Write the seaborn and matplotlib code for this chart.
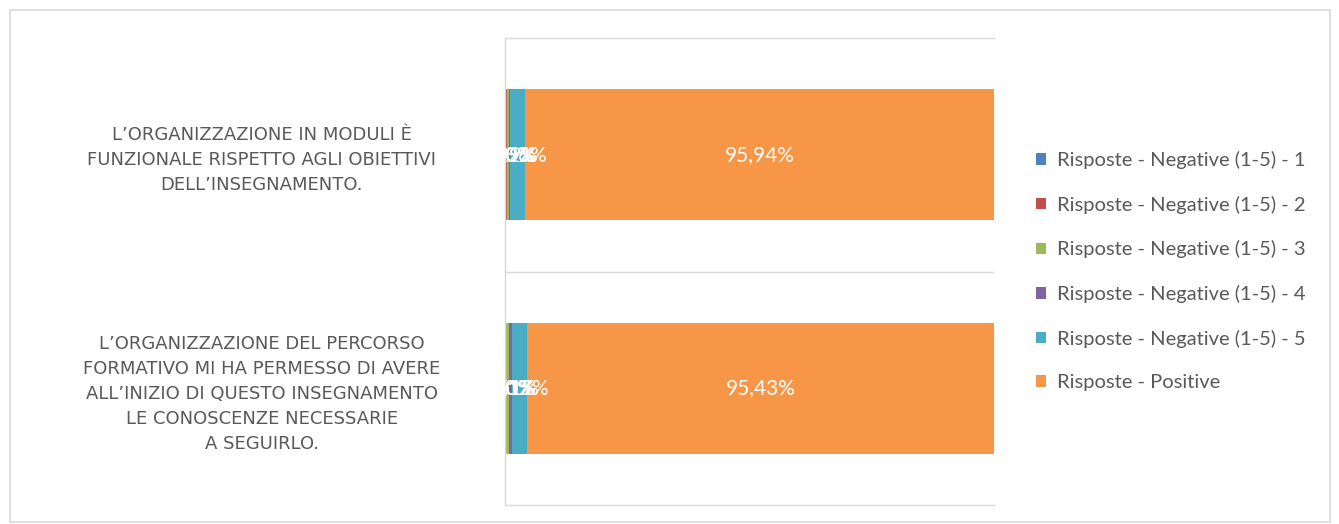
import matplotlib
matplotlib.use("Agg")
import matplotlib.pyplot as plt
import seaborn as sns
import pandas as pd
import numpy as np
from matplotlib.patches import Patch, Rectangle

categories = [
    "L\u2019ORGANIZZAZIONE IN MODULI È\nFUNZIONALE RISPETTO AGLI OBIETTIVI\nDELL\u2019INSEGNAMENTO.",
    "L\u2019ORGANIZZAZIONE DEL PERCORSO\nFORMATIVO MI HA PERMESSO DI AVERE\nALL\u2019INIZIO DI QUESTO INSEGNAMENTO\nLE CONOSCENZE NECESSARIE\nA SEGUIRLO.",
]
series_names = [
    "Risposte - Negative (1-5) - 1",
    "Risposte - Negative (1-5) - 2",
    "Risposte - Negative (1-5) - 3",
    "Risposte - Negative (1-5) - 4",
    "Risposte - Negative (1-5) - 5",
    "Risposte - Positive",
]
neg1 = [0.20, 0.10]
neg2 = [0.20, 0.20]
neg3 = [0.41, 0.51]
neg4 = [0.29, 0.61]
neg5 = [2.96, 3.15]
positive = [95.94, 95.43]
colors = ["#4F81BD", "#C0504D", "#9BBB59", "#8064A2", "#4BACC6", "#F79646"]

values = np.array([neg1, neg2, neg3, neg4, neg5, positive])  # series x categories
cum = values.cumsum(axis=0)

sns.set_theme(style="white")
plt.rcParams["font.family"] = ["Lato", "DejaVu Sans"]

fig = plt.figure(figsize=(13.39, 5.24), dpi=100)
ax = fig.add_axes([505/1339, 1-505/524, (994-505)/1339, (505-38)/524])

# outer border
fig.patches.append(Rectangle((10/1339, 2/524), 1320/1339, 512/524, transform=fig.transFigure,
                             fill=False, edgecolor="#D9D9D9", linewidth=1.2))

for i in range(len(series_names) - 1, -1, -1):
    df = pd.DataFrame({"cat": categories, "val": cum[i]})
    sns.barplot(data=df, x="val", y="cat", orient="h", color=colors[i],
                width=0.56, saturation=1, ax=ax, linewidth=0)

for i in range(len(series_names)):
    for j in range(len(categories)):
        center = cum[i, j] - values[i, j] / 2
        ax.text(center, j, f"{values[i, j]:.2f}%".replace(".", ","),
                ha="center", va="center", color="white", fontsize=15)

ax.set_xlim(0, 100)
ax.set_ylim(1.5, -0.5)
ax.set_xlabel("")
ax.set_ylabel("")
ax.set_xticks([])
ax.axhline(0.5, color="#D9D9D9", linewidth=1)
for s in ["top", "bottom", "left"]:
    ax.spines[s].set_visible(True)
    ax.spines[s].set_color("#D9D9D9")
    ax.spines[s].set_linewidth(1)
ax.spines["right"].set_visible(False)

ax.tick_params(axis="y", length=0, pad=175)
for lab in ax.get_yticklabels():
    lab.set_ha("center")
    lab.set_multialignment("center")
    lab.set_linespacing(1.5)
    lab.set_color("#595959")
    lab.set_fontsize(13)
    lab.set_family(["DejaVu Sans"])

handles = [Patch(facecolor=c, edgecolor="none") for c in colors]
fig.legend(handles, series_names, loc="upper left", bbox_to_anchor=(1018/1339, 1-133/524),
           frameon=False, fontsize=14.5, labelspacing=1.32, handlelength=0.5,
           handleheight=0.5, handletextpad=0.55, labelcolor="#595959")

fig.savefig("out.png", dpi=100)
